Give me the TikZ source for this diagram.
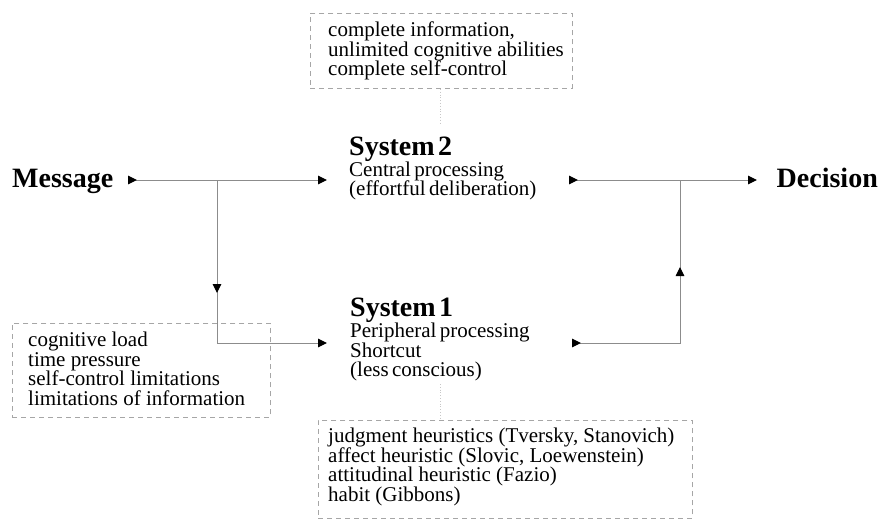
\documentclass[tikz,border=0pt]{standalone}
\usepackage{fontspec}
\setmainfont{Liberation Serif}
\usetikzlibrary{arrows.meta,decorations.markings}
\newcommand\smallfnt{\fontsize{21}{19.5}\selectfont\lineskiplimit=-50pt\relax}
\newcommand\titlefnt{\fontsize{28}{28}\selectfont\bfseries}
\begin{document}
\begin{tikzpicture}[x=1pt,y=-1pt,
  >={Triangle[length=9pt,width=8.5pt,color=black]},
  flow/.style={draw=black!45, line width=1pt},
  faint/.style={draw=black!22, line width=0.8pt, dotted},
  dashbox/.style={draw=black!35, line width=0.9pt, dash pattern=on 5pt off 4pt,
    anchor=north west, inner sep=0pt},
  boxtext/.style={anchor=north west, align=left, font=\smallfnt, inner sep=0pt},
  bigtitle/.style={font=\titlefnt, inner sep=0pt},
  sysblock/.style={anchor=north west, inner sep=0pt, text width=240pt, align=left},
  midtip/.style={postaction={decorate,decoration={markings,mark=at position #1 with {\arrow{>}}}}}
]
\useasboundingbox (0,0) rectangle (882,520);

% text nodes
\node[bigtitle, anchor=base west] (msg) at (12,187) {Message};
\node[bigtitle, anchor=base east] (dec) at (878,187) {Decision};
\node[sysblock] (sys2) at (349,137) {{\titlefnt System 2\par}\vskip1pt\smallfnt Central processing\par (effortful deliberation)\par};
\node[sysblock] (sys1) at (350,298) {{\titlefnt System 1\par}\vskip1.5pt\smallfnt Peripheral processing\par Shortcut\par (less conscious)\par};

% dashed boxes
\node[dashbox, minimum width=262pt, minimum height=75pt] (topbox) at (310,13) {};
\node[boxtext] (toptext) at (328,22)
  {complete information,\\ unlimited cognitive abilities\\ complete self-control};
\node[dashbox, minimum width=258pt, minimum height=94pt] (leftbox) at (12,323) {};
\node[boxtext] (lefttext) at (28,332)
  {cognitive load\\ time pressure\\ self-control limitations\\ limitations of information};
\node[dashbox, minimum width=374pt, minimum height=98pt] (botbox) at (318,420) {};
\node[boxtext] (bottext) at (328,428)
  {judgment heuristics (Tversky, Stanovich)\\ affect heuristic (Slovic, Loewenstein)\\ attitudinal heuristic (Fazio)\\ habit (Gibbons)};

% connector end points
\coordinate (m0) at (128,180);
\coordinate (s2in) at (327,180);
\coordinate (s2out) at (569,180);
\coordinate (decin) at (757,180);
\coordinate (j1) at (217,180);
\coordinate (s1in) at (327,343);
\coordinate (s1out) at (572,343);
\coordinate (j2) at (680,180);
\coordinate (d1) at (440,123);
\coordinate (d2) at (440,384);

% connectors
\draw[flow, >->] (m0) -- (s2in);
\draw[flow, >->] (s2out) -- (decin);
\draw[flow, ->, midtip=113pt] (j1) |- (s1in);
\draw[flow, >-, midtip=184pt] (s1out) -| (j2);

% faint dotted links
\draw[faint] (topbox.south -| d1) -- (d1);
\draw[faint] (d2) -- (botbox.north -| d2);
\end{tikzpicture}
\end{document}
